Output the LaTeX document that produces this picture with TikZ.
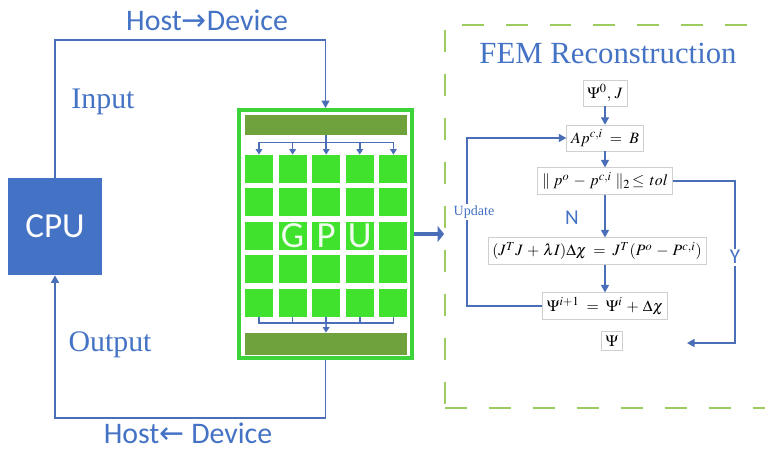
\documentclass[tikz,border=0pt]{standalone}
\usepackage{mathptmx}
\usepackage{fontspec}
\setmainfont{Liberation Serif}
\newfontfamily\calibfont{Carlito}
\newfontfamily\arrfont{DejaVu Sans}
\usetikzlibrary{arrows.meta,positioning,calc}
\definecolor{bluex}{HTML}{4472C4}
\definecolor{lineblue}{HTML}{4A6FB8}
\definecolor{cellgreen}{HTML}{40E22E}
\definecolor{bargreen}{HTML}{6FA23C}
\definecolor{gpugreen}{HTML}{3CD43A}
\definecolor{femgreen}{HTML}{9CCB5E}
\definecolor{boxgray}{HTML}{CFCFCF}
\tikzset{
  ar/.style={-{Triangle[length=1.5mm,width=1.6mm]},lineblue,line width=0.8pt},
  ars/.style={-{Triangle[length=1.1mm,width=1.3mm]},lineblue,line width=0.8pt},
  ln/.style={lineblue,line width=0.8pt},
  lab/.style={text=bluex,font=\fontsize{17}{20}\selectfont},
  slab/.style={text=bluex,font=\calibfont\fontsize{17}{20}\selectfont},
  cell/.style={fill=cellgreen,minimum size=0.56cm,inner sep=0pt},
  bar/.style={fill=bargreen,minimum width=3.24cm,inner sep=0pt},
  fbox/.style={draw=boxgray,fill=white,inner sep=2.5pt,font=\fontsize{9}{10}\selectfont}
}
\begin{document}
\begin{tikzpicture}[x=0.02cm,y=-0.02cm]
\useasboundingbox (0,0) rectangle (765,450);
% host side
\node[fill=bluex,minimum width=1.88cm,minimum height=1.94cm,inner sep=0pt,
  text=white,font=\calibfont\fontsize{20}{24}\selectfont] (cpu) at (55,226.5) {CPU};
\node[draw=gpugreen,line width=2.3pt,minimum width=3.46cm,minimum height=4.96cm,inner sep=0pt] (gpu) at (325.5,234) {};
\node[bar,minimum height=0.4cm] (topbar) at (326,125) {};
\node[bar,minimum height=0.44cm] (botbar) at (326,344) {};
\foreach \i in {1,...,5}
  \foreach \j in {1,...,5}
    \node[cell] (c-\i-\j) at ({259+33.6*(\i-1)},{169+33.4*(\j-1)}) {};
\foreach \l [count=\i from 2] in {G,P,U}
  \node[text=white!92!cellgreen,font=\calibfont\fontsize{21}{24}\selectfont] (g-\i) at (c-\i-3) {\l};
% fan out / fan in
\draw[ln] (topbar.south) -- ++(0,7) coordinate (split);
\draw[ln] (c-1-1 |- split) -- (c-5-1 |- split);
\foreach \i in {1,...,5}
  \draw[ars] (c-\i-1 |- split) -- (c-\i-1.north);
\draw[ln] (c-1-5.south) -- ++(0,6) coordinate (join) -- (c-5-5.south |- join) -- (c-5-5.south);
\foreach \i in {2,3,4}
  \draw[ln] (c-\i-5.south) -- (c-\i-5.south |- join);
\draw[ars] (c-3-5.south |- join) -- (botbar.north);
% host <-> device
\draw[ar] (cpu.north) -- (cpu.north |- 0,40) -| (gpu.north);
\draw[ar] (gpu.south) -- (gpu.south |- 0,418) -| (cpu.south);
\node[slab] (h2d) at (207,20) {Host{\arrfont →}Device};
\node[slab] (d2h) at (188,433) {Host{\arrfont ←} Device};
\node[lab] (inp) at (103,102) {Input};
\node[lab] (outp) at (110,345) {Output};
% FEM side
\node[draw=femgreen,line width=1.1pt,dash pattern=on 12.5pt off 12.5pt,
  minimum width=7.1cm,minimum height=7.66cm,inner sep=0pt] (fem) at (622.5,216.5) {};
\draw[lineblue,line width=2.8pt,-{Triangle[length=1.3mm,width=3.2mm]}] (gpu.east) -- (gpu.east -| fem.west);
\node[text=bluex,font=\fontsize{17.5}{20}\selectfont] (femt) at (608,53) {FEM Reconstruction};
\node[fbox] (s1) at (605,93) {$\Psi^{0},\,J$};
\node[fbox] (s2) at (605,138) {$Ap^{c,i}\;=\;B$};
\node[fbox] (s3) at (605,181) {$\|\;p^{o}\,-\,p^{c,i}\;\|_2\!\le\,tol$};
\node[fbox] (s4) at (597,251) {$(J^{T}J\,+\,\lambda I)\Delta\chi\;=\;J^{T}(P^{o}\,-\,P^{c,i})$};
\node[fbox] (s5) at (605,306) {$\Psi^{i+1}\;=\;\Psi^{i}\,+\,\Delta\chi$};
\node[fbox] (s6) at (612,341) {$\Psi$};
\draw[ar] (s1) -- (s2);
\draw[ar] (s2) -- (s3);
\draw[ar] (s3) -- (s3 |- s4.north);
\draw[ar] (s4.south -| s5) -- (s5);
\node[text=bluex,font=\calibfont\fontsize{12}{14}\selectfont] (nlab) at (572,218) {N};
\coordinate (updx) at (467,0);
\draw[ar] (s5.west) -- (s5.west -| updx) -- node[pos=0.56,fill=white,inner sep=1pt,xshift=0.14cm,
  text=bluex,font=\fontsize{8}{9}\selectfont] (upd) {Update} (s2.west -| updx) -- (s2.west);
\coordinate (yx) at (735,0);
\coordinate (yend) at (687,343);
\draw[ar] (s3.east) -- (s3.east -| yx) -- node[pos=0.47,fill=white,inner sep=1pt,
  text=bluex,font=\calibfont\fontsize{12}{14}\selectfont] (ylab) {Y} (yend -| yx) -- (yend);
\end{tikzpicture}
\end{document}
